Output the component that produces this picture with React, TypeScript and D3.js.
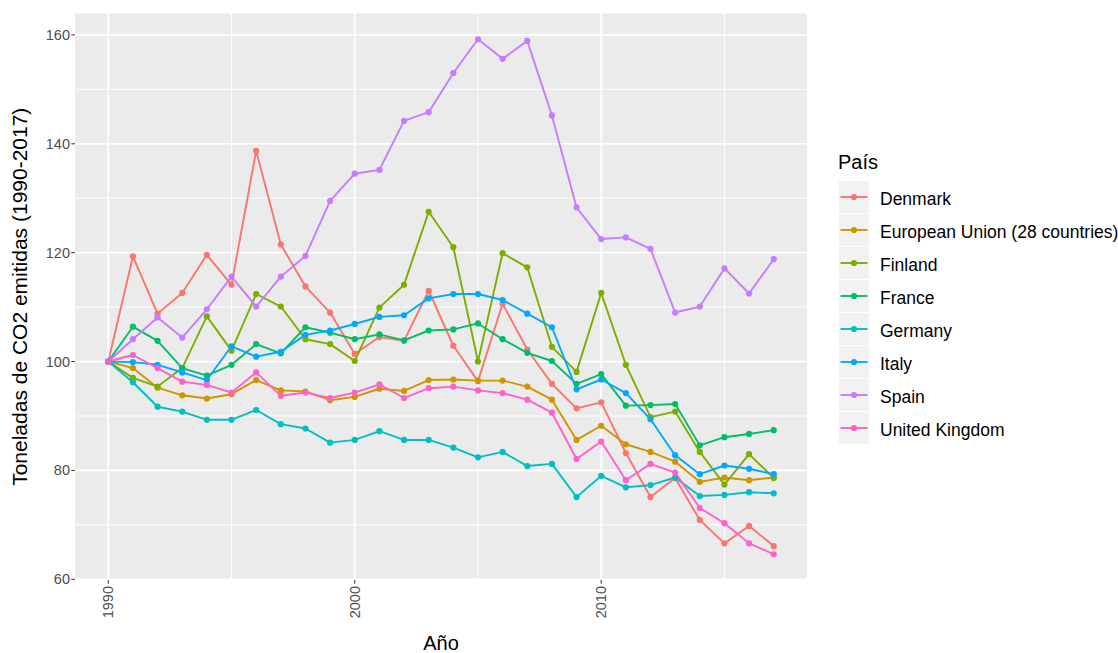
import React from "react";
import * as d3 from "d3";

const years = d3.range(1990, 2018);

const countries = [
  "Denmark",
  "European Union (28 countries)",
  "Finland",
  "France",
  "Germany",
  "Italy",
  "Spain",
  "United Kingdom",
];

const denmark = [100, 119.3, 108.8, 112.6, 119.6, 114.1, 138.7, 121.5, 113.8, 109.0, 101.4, 104.5, 103.8, 113.0, 102.9, 96.4, 110.6, 102.2, 95.9, 91.4, 92.5, 83.2, 75.1, 78.6, 70.9, 66.6, 69.8, 66.1];
const eu28 = [100, 98.8, 95.2, 93.8, 93.2, 94.0, 96.6, 94.7, 94.5, 92.9, 93.5, 95.0, 94.6, 96.6, 96.7, 96.5, 96.5, 95.4, 93.0, 85.6, 88.2, 84.8, 83.4, 81.6, 77.9, 78.7, 78.2, 78.7];
const finland = [100, 97.0, 95.4, 98.8, 108.3, 102.0, 112.4, 110.1, 104.1, 103.2, 100.1, 109.9, 114.1, 127.5, 121.0, 100.0, 119.9, 117.3, 102.7, 98.1, 112.6, 99.4, 89.8, 90.8, 83.4, 77.4, 83.0, 78.6];
const france = [100, 106.4, 103.8, 98.8, 97.4, 99.4, 103.2, 101.5, 106.3, 105.3, 104.1, 105.0, 103.9, 105.7, 105.9, 107.0, 104.1, 101.6, 100.1, 95.9, 97.7, 91.9, 92.0, 92.2, 84.6, 86.1, 86.7, 87.4];
const germany = [100, 96.2, 91.7, 90.8, 89.3, 89.3, 91.1, 88.5, 87.7, 85.1, 85.6, 87.2, 85.6, 85.6, 84.2, 82.4, 83.4, 80.8, 81.2, 75.1, 79.0, 76.9, 77.3, 78.7, 75.3, 75.5, 76.0, 75.8];
const italy = [100, 99.9, 99.4, 98.0, 96.6, 102.8, 100.9, 101.8, 104.9, 105.7, 106.9, 108.2, 108.5, 111.6, 112.4, 112.4, 111.3, 108.8, 106.3, 94.9, 96.7, 94.2, 89.4, 82.8, 79.3, 80.9, 80.3, 79.3];
const spain = [100, 104.1, 108.1, 104.4, 109.6, 115.6, 110.1, 115.6, 119.4, 129.5, 134.5, 135.2, 144.2, 145.8, 153.0, 159.2, 155.6, 158.9, 145.2, 128.3, 122.5, 122.8, 120.7, 109.0, 110.1, 117.1, 112.5, 118.8];
const uk = [100, 101.2, 98.8, 96.3, 95.7, 94.3, 98.0, 93.7, 94.3, 93.3, 94.3, 95.8, 93.3, 95.1, 95.4, 94.7, 94.2, 93.0, 90.6, 82.1, 85.3, 78.2, 81.2, 79.6, 73.1, 70.3, 66.6, 64.6];

const seriesValues = [denmark, eu28, finland, france, germany, italy, spain, uk];

const colors = ["#F8766D", "#CD9600", "#7CAE00", "#00BE67", "#00BFC4", "#00A9FF", "#C77CFF", "#FF61CC"];

const yMajor = [60, 80, 100, 120, 140, 160];
const yMinor = [70, 90, 110, 130, 150];
const xMajor = [1990, 2000, 2010];
const xMinor = [1995, 2005, 2015];

const FONT = "'Liberation Sans', Arial, Helvetica, sans-serif";

export default function App() {
  const W = 1118;
  const H = 653;
  const panel = { left: 75, right: 807, top: 13.5, bottom: 580 };

  const all = seriesValues.flat();
  const [mn, mx] = d3.extent(all) as [number, number];
  const pad = (mx - mn) * 0.05;
  const y = d3.scaleLinear().domain([mn - pad, mx + pad]).range([panel.bottom, panel.top]);
  const xPad = (2017 - 1990) * 0.05;
  const x = d3.scaleLinear().domain([1990 - xPad, 2017 + xPad]).range([panel.left, panel.right]);

  const line = d3
    .line<number>()
    .x((_, i) => x(years[i]))
    .y((d) => y(d));

  const legendX = 839;
  const legendTop = 181;
  const rowH = 33;

  return (
    <svg
      width={W}
      height={H}
      style={{ position: "absolute", left: 0, top: 0, background: "#fff" }}
      fontFamily={FONT}
    >
      <rect x={panel.left} y={panel.top} width={panel.right - panel.left} height={panel.bottom - panel.top} fill="#EBEBEB" />
      {yMinor.map((v) => (
        <line key={"ym" + v} x1={panel.left} x2={panel.right} y1={y(v)} y2={y(v)} stroke="#fff" strokeWidth={0.9} />
      ))}
      {xMinor.map((v) => (
        <line key={"xm" + v} y1={panel.top} y2={panel.bottom} x1={x(v)} x2={x(v)} stroke="#fff" strokeWidth={0.9} />
      ))}
      {yMajor.map((v) => (
        <line key={"yM" + v} x1={panel.left} x2={panel.right} y1={y(v)} y2={y(v)} stroke="#fff" strokeWidth={1.7} />
      ))}
      {xMajor.map((v) => (
        <line key={"xM" + v} y1={panel.top} y2={panel.bottom} x1={x(v)} x2={x(v)} stroke="#fff" strokeWidth={1.7} />
      ))}

      {seriesValues.map((vals, si) => (
        <path key={"l" + si} d={line(vals) || ""} fill="none" stroke={colors[si]} strokeWidth={1.9} strokeLinejoin="round" />
      ))}
      {seriesValues.map((vals, si) => (
        <g key={"p" + si} fill={colors[si]}>
          {vals.map((v, i) => (
            <circle key={i} cx={x(years[i])} cy={y(v)} r={3.1} />
          ))}
        </g>
      ))}

      {/* y axis */}
      {yMajor.map((v) => (
        <g key={"yt" + v}>
          <line x1={panel.left - 3.7} x2={panel.left} y1={y(v)} y2={y(v)} stroke="#333" strokeWidth={1} />
          <text x={panel.left - 5} y={y(v)} dy="0.35em" textAnchor="end" fontSize={14.5} fill="#4D4D4D">
            {v}
          </text>
        </g>
      ))}
      {/* x axis */}
      {xMajor.map((v) => (
        <g key={"xt" + v}>
          <line x1={x(v)} x2={x(v)} y1={panel.bottom} y2={panel.bottom + 3.7} stroke="#333" strokeWidth={1} />
          <text
            transform={`translate(${x(v)},${panel.bottom + 6}) rotate(-90)`}
            dy="0.35em"
            textAnchor="end"
            fontSize={14.5}
            fill="#4D4D4D"
          >
            {v}
          </text>
        </g>
      ))}

      <text x={(panel.left + panel.right) / 2} y={650} textAnchor="middle" fontSize={20} fill="#000">
        Año
      </text>
      <text
        transform={`translate(27,${(panel.top + panel.bottom) / 2}) rotate(-90)`}
        textAnchor="middle"
        fontSize={21}
        fill="#000"
      >
        Toneladas de CO2 emitidas (1990-2017)
      </text>

      {/* legend */}
      <text x={838} y={169} fontSize={20} fill="#000">
        País
      </text>
      {countries.map((c, i) => {
        const top = legendTop + i * rowH;
        const cy = top + 16;
        return (
          <g key={"lg" + i}>
            <rect x={legendX} y={top} width={30} height={32} fill="#F2F2F2" />
            <line x1={legendX + 1.5} x2={legendX + 28.5} y1={cy} y2={cy} stroke={colors[i]} strokeWidth={1.9} />
            <circle cx={legendX + 15} cy={cy} r={3.1} fill={colors[i]} />
            <text x={880} y={cy + 2} dy="0.35em" fontSize={17.5} fill="#000">
              {c}
            </text>
          </g>
        );
      })}
    </svg>
  );
}
